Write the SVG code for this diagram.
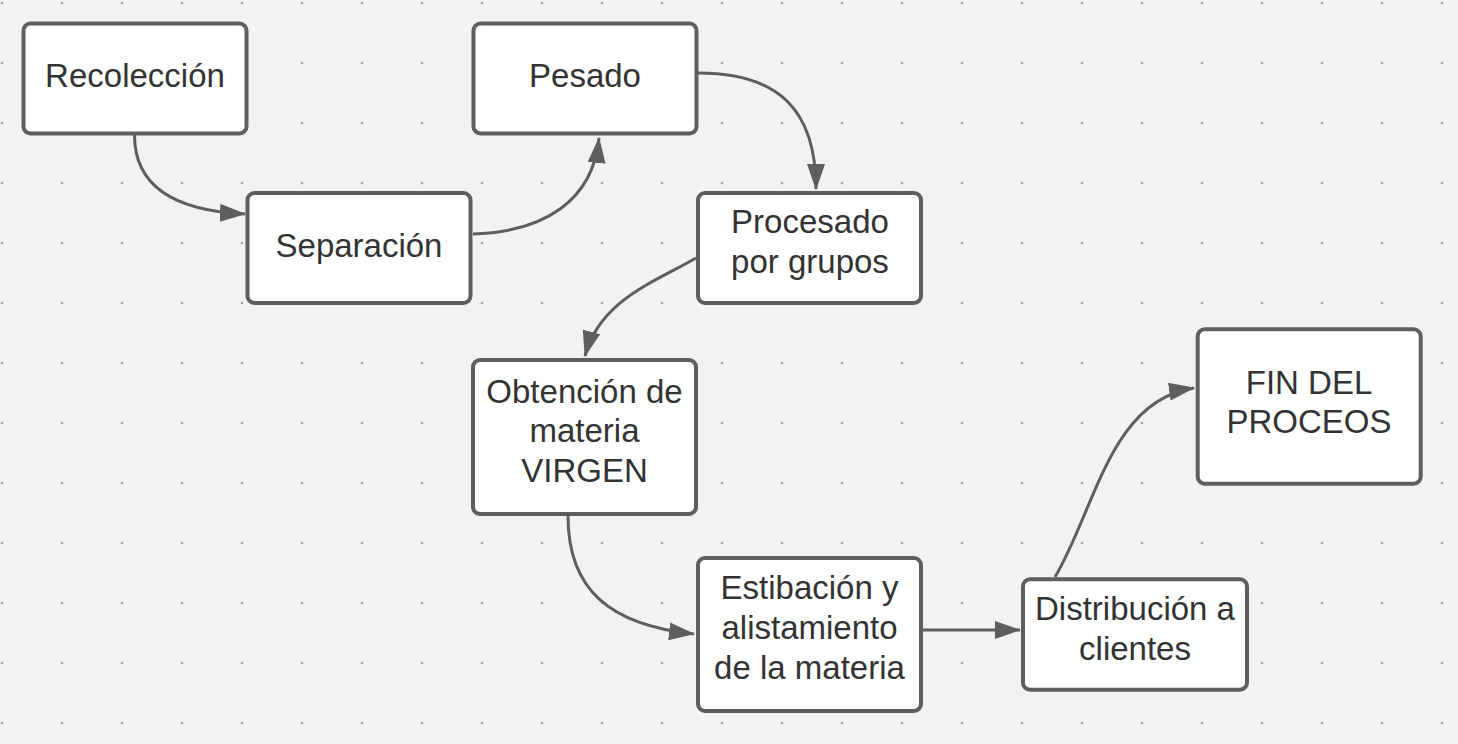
<svg xmlns="http://www.w3.org/2000/svg" width="1458" height="744" viewBox="0 0 1458 744">
<style>
.node rect{fill:#ffffff;stroke:#5e5e5e;stroke-width:4}
.node text{font-family:"Liberation Sans",Arial,sans-serif;font-size:33px;fill:#333333;text-anchor:middle}
.conn path{fill:none;stroke:#5e5e5e;stroke-width:3;marker-end:url(#arrow)}
</style>
<defs>
<pattern id="dots" patternUnits="userSpaceOnUse" x="0" y="0" width="60" height="60">
<circle cx="2" cy="3" r="1.3" fill="#a3a6ab"/>
</pattern>
<marker id="arrow" markerUnits="userSpaceOnUse" markerWidth="28" markerHeight="20" refX="25" refY="9" orient="auto">
<path d="M0,0 L26,9 L0,18 z" fill="#5e5e5e"/>
</marker>
</defs>
<rect x="0" y="0" width="1458" height="744" fill="#f1f2f4"/>
<rect x="0" y="0" width="1458" height="744" fill="url(#dots)"/>
<g id="connectors" class="conn">
<path d="M134.5,135 C134.5,190 180,211 245,214"/>
<path d="M473,234 C545,232 593,200 599,138"/>
<path d="M698,73 C778,73 816,109 816,189"/>
<path d="M696,258 C655,282 600,300 585,356"/>
<path d="M568,516 C568,590 610,625 694,634"/>
<path d="M923,630 L1020,630"/>
<path d="M1055,577 C1095,510 1110,400 1194,388"/>
</g>
<g id="n1" class="node"><rect x="23.5" y="23.5" width="223" height="110" rx="7"/><text x="135" y="87">Recolección</text></g>
<g id="n2" class="node"><rect x="247.5" y="193" width="223" height="110" rx="7"/><text x="359" y="257">Separación</text></g>
<g id="n3" class="node"><rect x="473.5" y="23.5" width="223" height="110" rx="7"/><text x="585" y="87">Pesado</text></g>
<g id="n4" class="node"><rect x="698" y="193" width="223" height="110" rx="7"/><text x="810"><tspan x="810" y="233">Procesado</tspan><tspan x="810" y="272.5">por grupos</tspan></text></g>
<g id="n5" class="node"><rect x="473" y="360" width="223" height="154" rx="7"/><text x="584.5"><tspan x="584.5" y="402.7">Obtención de</tspan><tspan x="584.5" y="442.2">materia</tspan><tspan x="584.5" y="481.7">VIRGEN</tspan></text></g>
<g id="n6" class="node"><rect x="698" y="558" width="223" height="153" rx="7"/><text x="809.5"><tspan x="809.5" y="599.3">Estibación y</tspan><tspan x="809.5" y="639.3">alistamiento</tspan><tspan x="809.5" y="679">de la materia</tspan></text></g>
<g id="n7" class="node"><rect x="1023" y="579.3" width="224" height="110.4" rx="7"/><text x="1135"><tspan x="1135" y="620">Distribución a</tspan><tspan x="1135" y="660">clientes</tspan></text></g>
<g id="n8" class="node"><rect x="1197.7" y="329.3" width="223" height="154.4" rx="7"/><text x="1309"><tspan x="1309" y="394">FIN DEL</tspan><tspan x="1309" y="433.3">PROCEOS</tspan></text></g>
</svg>
